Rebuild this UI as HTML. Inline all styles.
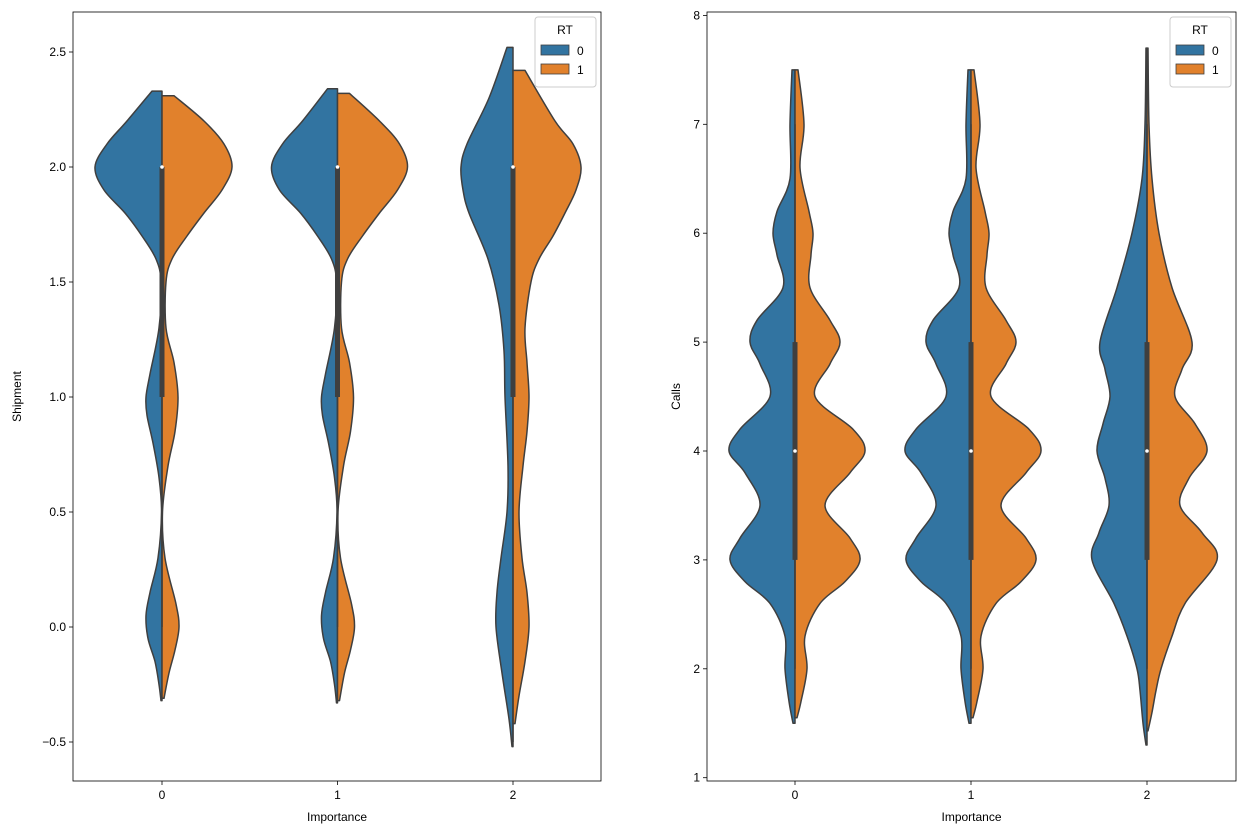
<!DOCTYPE html>
<html><head><meta charset="utf-8">
<style>
body{margin:0;background:#fff;font-family:"Liberation Sans",sans-serif;}
svg text{font-family:"Liberation Sans",sans-serif;font-size:12px;fill:#000;}
</style></head>
<body>
<svg id="chart" width="1245" height="835" viewBox="0 0 1245 835"></svg>
<script>
// ---------- DATA ----------
const categories = ["0","1","2"];
const leftTicks = [-0.5,0,0.5,1,1.5,2,2.5];
const leftTickLabels = ["\u22120.5","0.0","0.5","1.0","1.5","2.0","2.5"];
const rightTicks = [1,2,3,4,5,6,7,8];
const rightTickLabels = ["1","2","3","4","5","6","7","8"];

const shipYs0_0 = [-0.32,-0.25,-0.15,-0.05,0.05,0.15,0.3,0.5,0.65,0.8,0.92,1.0,1.1,1.3,1.5,1.6,1.7,1.8,1.9,2.0,2.1,2.2,2.33];
const shipWs0_0 = [1,3,7,14,16,12,4,0.5,3,9,15,16,12,3,1,6,20,37,58,67,55,35,10];
const shipYs0_1 = [-0.31,-0.2,-0.1,0,0.1,0.3,0.5,0.7,0.85,1.0,1.15,1.3,1.5,1.6,1.7,1.8,1.9,2.0,2.1,2.2,2.31];
const shipWs0_1 = [2,7,13,17,14,3,0.5,6,13,16,12,4,4,10,25,42,60,70,62,42,12];
const shipYs1_0 = [-0.33,-0.25,-0.15,-0.05,0.05,0.15,0.3,0.5,0.65,0.8,0.92,1.0,1.1,1.3,1.5,1.6,1.7,1.8,1.9,2.0,2.1,2.2,2.34];
const shipWs1_0 = [1,3,7,14,16,12,4,0.5,3,9,15,16,12,3,1,6,20,37,58,66,55,35,10];
const shipYs1_1 = [-0.32,-0.2,-0.1,0,0.1,0.3,0.5,0.7,0.85,1.0,1.15,1.3,1.5,1.6,1.7,1.8,1.9,2.0,2.1,2.2,2.32];
const shipWs1_1 = [2,7,13,17,14,3,0.5,6,13,16,12,4,4,10,25,42,60,70,62,42,12];
const shipYs2_0 = [-0.52,-0.4,-0.2,0,0.15,0.3,0.5,0.7,1.0,1.2,1.4,1.6,1.8,1.9,2.0,2.1,2.3,2.52];
const shipWs2_0 = [1,4,11,17,16,12,6,5,8,9,14,25,44,50,52,46,24,6];
const shipYs2_1 = [-0.42,-0.3,-0.15,0,0.15,0.3,0.5,0.7,0.85,1.0,1.15,1.3,1.5,1.6,1.7,1.8,1.9,2.0,2.1,2.2,2.42];
const shipWs2_1 = [2,6,12,16,14,9,6,10,14,16,14,12,18,26,40,52,63,68,60,42,12];
const shipBox = [[0,1,2,2],[0,1,2,2],[-0.5,1,2,2]];

const callYs0_0 = [1.5,1.7,2.0,2.3,2.6,2.8,3.0,3.2,3.5,3.8,4.0,4.2,4.5,4.8,5.0,5.2,5.5,5.8,6.0,6.2,6.5,7.0,7.5];
const callWs0_0 = [2,6,10,10,25,50,65,55,35,50,66,55,25,35,45,38,12,18,22,18,5,5,3];
const callYs0_1 = [1.55,1.7,2.0,2.3,2.6,2.8,3.0,3.2,3.5,3.8,4.0,4.2,4.5,4.8,5.0,5.2,5.5,5.8,6.0,6.2,6.6,7.0,7.5];
const callWs0_1 = [2,6,12,10,25,50,65,55,30,55,70,58,20,35,45,35,15,16,18,14,5,9,3];
const callYs1_0 = callYs0_0.slice();
const callWs1_0 = callWs0_0.slice();
const callYs1_1 = callYs0_1.slice();
const callWs1_1 = callWs0_1.slice();
const callYs2_0 = [1.3,1.5,1.8,2.0,2.3,2.6,3.0,3.25,3.5,3.75,4.0,4.25,4.5,4.75,5.0,5.5,6.0,6.5,7.0,7.7];
const callWs2_0 = [1,4,7,10,20,33,55,48,38,42,50,44,37,42,47,30,15,5,2,1];
const callYs2_1 = [1.43,1.6,1.8,2.0,2.3,2.6,3.0,3.25,3.5,3.75,4.0,4.25,4.5,4.75,5.0,5.5,6.0,6.5,7.0,7.7];
const callWs2_1 = [1,5,9,14,25,38,70,55,33,42,60,48,28,35,45,25,12,5,2,1];
const callBox = [[2,3,5,4],[2,3,5,4],[2,3,5,4]];

// ---------- DRAW ----------
const svg = document.getElementById('chart');
const NS = 'http://www.w3.org/2000/svg';
const BLUE = '#3274a1', ORANGE = '#e1812c', EDGE = '#3f3f3f';
function mk(tag, attrs, parent){
  const e = document.createElementNS(NS, tag);
  for (const k in attrs) e.setAttribute(k, attrs[k]);
  (parent||svg).appendChild(e);
  return e;
}
function smoothPath(pts){
  let d = 'M'+pts[0][0]+','+pts[0][1];
  for (let i=0;i<pts.length-1;i++){
    const p0=pts[Math.max(0,i-1)],p1=pts[i],p2=pts[i+1],p3=pts[Math.min(pts.length-1,i+2)];
    const c1=[p1[0]+(p2[0]-p0[0])/6,p1[1]+(p2[1]-p0[1])/6];
    const c2=[p2[0]-(p3[0]-p1[0])/6,p2[1]-(p3[1]-p1[1])/6];
    d+=' C'+c1[0]+','+c1[1]+' '+c2[0]+','+c2[1]+' '+p2[0]+','+p2[1];
  }
  return d;
}
function makeAxis(cfg){
  const g = mk('g',{});
  
  
  const yS = v => cfg.y0 + (v - cfg.v0) * cfg.ppu * -1;
  const xS = i => cfg.xc0 + i * cfg.step;
  cfg.ticks.forEach((t,i)=>{
    const y = yS(t);
    const tk = mk('line',{x1:cfg.left-4,x2:cfg.left,y1:y,y2:y,stroke:'#000','stroke-width':0.8},g);
    
    
    const tx = mk('text',{x:cfg.left-7,y:y+4,'text-anchor':'end'},g);
    
    
    tx.textContent = cfg.tickLabels[i];
  });
  categories.forEach((c,i)=>{
    const x = xS(i);
    const tk = mk('line',{x1:x,x2:x,y1:cfg.bottom,y2:cfg.bottom+4,stroke:'#000','stroke-width':0.8},g);
    
    
    const tx = mk('text',{x:x,y:cfg.bottom+18,'text-anchor':'middle'},g);
    
    
    tx.textContent = c;
  });
  cfg.series.forEach((pair,i)=>{
    pair.forEach((s,h)=>{
      const cx = xS(i), dir = h===0?-1:1;
      const pts = s.ys.map((v,k)=>[cx+dir*s.ws[k], yS(v)]);
      let d = 'M'+cx+','+yS(s.ys[0])+' L'+pts[0][0]+','+pts[0][1];
      d += smoothPath(pts).replace(/^M[^ ]+/,'');
      d += ' L'+cx+','+yS(s.ys[s.ys.length-1])+' Z';
      const p = mk('path',{d:d,fill:h===0?BLUE:ORANGE,stroke:EDGE,'stroke-width':1.5,'stroke-linejoin':'round'},g);
      
      
    });
    const b = cfg.box[i], cx = xS(i);
    const w = mk('line',{x1:cx,x2:cx,y1:yS(b[0]),y2:yS(cfg.whHi[i]),stroke:EDGE,'stroke-width':1.5},g);
    
    
    const bx = mk('rect',{x:cx-2.5,y:yS(b[2]),width:5,height:yS(b[1])-yS(b[2]),fill:EDGE},g);
    
    
    const m = mk('circle',{cx:cx,cy:yS(b[3]),r:1.8,fill:'#fff'},g);
    
    
  });
  const frame = mk('rect',{x:cfg.left,y:cfg.top,width:cfg.right-cfg.left,height:cfg.bottom-cfg.top,fill:'none',stroke:'#000','stroke-width':0.8},g);
  
  
  const xl = mk('text',{x:(cfg.left+cfg.right)/2,y:cfg.bottom+40,'text-anchor':'middle'},g);
  
  
  xl.textContent='Importance';
  const yl = mk('text',{x:0,y:0,'text-anchor':'middle',transform:'translate('+cfg.ylabX+','+(cfg.top+cfg.bottom)/2+') rotate(-90)'},g);
  
  
  yl.textContent=cfg.ylabel;
  const lx = cfg.right-66, ly = cfg.top+5;
  const lg = mk('g',{},g);
  
  
  mk('rect',{x:lx,y:ly,width:61,height:70,rx:3,fill:'#fff','fill-opacity':0.8,stroke:'#ccc'},lg);
  const lt = mk('text',{x:lx+30,y:ly+17,'text-anchor':'middle','font-size':11},lg);
  
  
  lt.textContent='RT';
  [BLUE,ORANGE].forEach((c,k)=>{
    const e = mk('g',{},lg);
    
    
    mk('rect',{x:lx+6,y:ly+28+k*19,width:28,height:10,fill:c,stroke:EDGE,'stroke-width':0.8},e);
    const t = mk('text',{x:lx+42,y:ly+38+k*19},e);
    t.textContent=String(k);
  });
}
makeAxis({name:'shipment-axes',left:73,right:601,top:12,bottom:781,y0:627,v0:0,ppu:230,
  xc0:162,step:175.5,ticks:leftTicks,tickLabels:leftTickLabels,ylabel:'Shipment',ylabX:21,
  series:[[{ys:shipYs0_0,ws:shipWs0_0},{ys:shipYs0_1,ws:shipWs0_1}],
          [{ys:shipYs1_0,ws:shipWs1_0},{ys:shipYs1_1,ws:shipWs1_1}],
          [{ys:shipYs2_0,ws:shipWs2_0},{ys:shipYs2_1,ws:shipWs2_1}]],
  box:shipBox,whHi:[2,2,2]});
makeAxis({name:'calls-axes',left:707,right:1236,top:12,bottom:781,y0:451,v0:4,ppu:108.9,
  xc0:795,step:176,ticks:rightTicks,tickLabels:rightTickLabels,ylabel:'Calls',ylabX:680,
  series:[[{ys:callYs0_0,ws:callWs0_0},{ys:callYs0_1,ws:callWs0_1}],
          [{ys:callYs1_0,ws:callWs1_0},{ys:callYs1_1,ws:callWs1_1}],
          [{ys:callYs2_0,ws:callWs2_0},{ys:callYs2_1,ws:callWs2_1}]],
  box:callBox,whHi:[7,7,7]});
</script>
</body></html>
